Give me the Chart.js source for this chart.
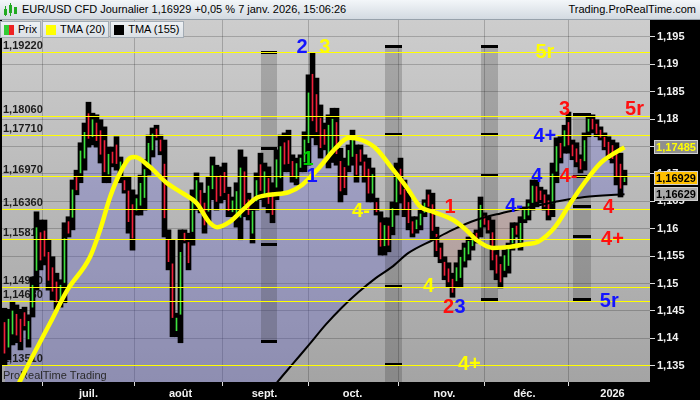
<!DOCTYPE html>
<html>
<head>
<meta charset="utf-8">
<script src="https://cdn.jsdelivr.net/npm/chart.js@4.4.1/dist/chart.umd.min.js"></script>
<style>
html, body { margin: 0; padding: 0; background: #000; }
#wrap { position: relative; width: 700px; height: 400px; overflow: hidden; font-family: "Liberation Sans", Arial, sans-serif; }
#hdr { position: absolute; left: 0; top: 0; width: 700px; height: 20px; box-sizing: border-box;
  background: linear-gradient(#f3f6f9, #d3dae1); border-bottom: 1px solid #97a1ab; font-size: 11px; line-height: 19px; color: #000; }
#hdr .t { position: absolute; left: 22px; top: 0; }
#hdr .r { position: absolute; right: 4px; top: 0; }
#hdr svg { position: absolute; left: 3px; top: 3px; }
#leg { position: absolute; left: 0; top: 21px; display: flex; }
#leg div { height: 15px; border: 1px solid #a3acb5; background: linear-gradient(#eef1f4, #dbe0e5); font-size: 11px;
  line-height: 15px; padding: 0 3px; margin-right: 1px; display: flex; align-items: center; color: #000; }
.sw { display: inline-block; width: 10px; height: 10px; margin-right: 4px; }
</style>
</head>
<body>
<div id="wrap">
  <canvas id="prt-chart" width="700" height="400"></canvas>
  <div id="hdr">
    <svg width="16" height="14"><rect x="1" y="6" width="3" height="6" fill="#2a2"/><rect x="6" y="2" width="3" height="8" fill="#2a2"/><rect x="11" y="4" width="3" height="7" fill="#2a2"/><rect x="2" y="3" width="1" height="10" fill="#2a2"/><rect x="7" y="0" width="1" height="13" fill="#2a2"/></svg>
    <span class="t">EUR/USD CFD Journalier 1,16929 +0,05 % 7 janv. 2026, 15:06:26</span>
    <span class="r">Trading.ProRealTime.com</span>
  </div>
  <div id="leg">
    <div><span class="sw" style="background:linear-gradient(90deg,#3c3 50%,#e22 50%)"></span>Prix</div>
    <div><span class="sw" style="background:#ffff00"></span>TMA (20)</div>
    <div><span class="sw" style="background:#000"></span>TMA (155)</div>
  </div>
</div>
<script>
// daily bars, 2 juin 2025 -> 7 janv. 2026 (index 0..155)
const hi = [
  1.1455, 1.1453, 1.1466, 1.1461, 1.1453, 1.1457, 1.1443, 1.1512, 1.1631, 1.1616,
  1.1616, 1.1580, 1.1549, 1.1519, 1.1507, 1.1611, 1.1622, 1.1689, 1.1707, 1.1757,
  1.1793, 1.1831, 1.1811, 1.1808, 1.1799, 1.1786, 1.1749, 1.1749, 1.1768, 1.1731,
  1.1695, 1.1695, 1.1671, 1.1662, 1.1698, 1.1726, 1.1771, 1.1784, 1.1789, 1.1771,
  1.1762, 1.1598, 1.1580, 1.1446, 1.1598, 1.1598, 1.1592, 1.1671, 1.1702, 1.1684,
  1.1665, 1.1695, 1.1731, 1.1716, 1.1713, 1.1720, 1.1676, 1.1658, 1.1684, 1.1744,
  1.1731, 1.1665, 1.1647, 1.1702, 1.1738, 1.1720, 1.1713, 1.1684, 1.1744, 1.1771,
  1.1775, 1.1780, 1.1735, 1.1729, 1.1735, 1.1777, 1.1881, 1.1921, 1.1875, 1.1826,
  1.1793, 1.1808, 1.1820, 1.1820, 1.1747, 1.1729, 1.1753, 1.1780, 1.1753, 1.1753,
  1.1735, 1.1729, 1.1711, 1.1656, 1.1631, 1.1620, 1.1620, 1.1649, 1.1720, 1.1729,
  1.1689, 1.1665, 1.1622, 1.1622, 1.1634, 1.1653, 1.1671, 1.1665, 1.1603, 1.1574,
  1.1549, 1.1538, 1.1519, 1.1538, 1.1561, 1.1574, 1.1585, 1.1592, 1.1598, 1.1658,
  1.1629, 1.1622, 1.1616, 1.1567, 1.1549, 1.1561, 1.1574, 1.1611, 1.1611, 1.1622,
  1.1640, 1.1653, 1.1689, 1.1689, 1.1676, 1.1671, 1.1662, 1.1720, 1.1766, 1.1768,
  1.1789, 1.1813, 1.1762, 1.1757, 1.1735, 1.1775, 1.1808, 1.1808, 1.1799, 1.1786,
  1.1775, 1.1768, 1.1762, 1.1757, 1.1738, 1.1707
]
const lo = [
  1.1352, 1.1361, 1.1388, 1.1392, 1.1379, 1.1415, 1.1384, 1.1439, 1.1488, 1.1525,
  1.1534, 1.1488, 1.1470, 1.1453, 1.1457, 1.1465, 1.1585, 1.1598, 1.1662, 1.1684,
  1.1707, 1.1749, 1.1753, 1.1749, 1.1720, 1.1684, 1.1684, 1.1713, 1.1707, 1.1684,
  1.1665, 1.1592, 1.1561, 1.1625, 1.1625, 1.1634, 1.1698, 1.1731, 1.1762, 1.1735,
  1.1585, 1.1525, 1.1403, 1.1403, 1.1392, 1.1574, 1.1525, 1.1570, 1.1634, 1.1629,
  1.1592, 1.1611, 1.1653, 1.1634, 1.1647, 1.1653, 1.1622, 1.1622, 1.1603, 1.1580,
  1.1622, 1.1616, 1.1574, 1.1634, 1.1653, 1.1640, 1.1629, 1.1611, 1.1653, 1.1667,
  1.1704, 1.1704, 1.1685, 1.1680, 1.1704, 1.1704, 1.1716, 1.1766, 1.1753, 1.1729,
  1.1744, 1.1711, 1.1721, 1.1716, 1.1649, 1.1662, 1.1704, 1.1716, 1.1685, 1.1716,
  1.1685, 1.1649, 1.1649, 1.1625, 1.1552, 1.1552, 1.1558, 1.1589, 1.1625, 1.1647,
  1.1622, 1.1598, 1.1585, 1.1592, 1.1598, 1.1622, 1.1634, 1.1580, 1.1549, 1.1538,
  1.1507, 1.1494, 1.1475, 1.1494, 1.1494, 1.1530, 1.1543, 1.1561, 1.1574, 1.1585,
  1.1603, 1.1592, 1.1525, 1.1507, 1.1492, 1.1512, 1.1519, 1.1561, 1.1585, 1.1561,
  1.1611, 1.1616, 1.1634, 1.1640, 1.1647, 1.1634, 1.1616, 1.1622, 1.1684, 1.1720,
  1.1738, 1.1738, 1.1726, 1.1713, 1.1702, 1.1707, 1.1768, 1.1775, 1.1768, 1.1762,
  1.1744, 1.1726, 1.1720, 1.1680, 1.1658, 1.1680
]
const op = [
  1.1429, 1.1384, 1.1408, 1.1444, 1.1435, 1.1447, 1.1399, 1.1457, 1.1524, 1.1593,
  1.1596, 1.1557, 1.1529, 1.1503, 1.1470, 1.1502, 1.1613, 1.1621, 1.1696, 1.1702,
  1.1729, 1.1810, 1.1768, 1.1793, 1.1779, 1.1761, 1.1700, 1.1740, 1.1753, 1.1696,
  1.1688, 1.1669, 1.1644, 1.1634, 1.1643, 1.1657, 1.1716, 1.1744, 1.1782, 1.1762,
  1.1718, 1.1580, 1.1536, 1.1414, 1.1444, 1.1592, 1.1575, 1.1595, 1.1651, 1.1670,
  1.1647, 1.1632, 1.1673, 1.1696, 1.1697, 1.1703, 1.1663, 1.1631, 1.1623, 1.1621,
  1.1704, 1.1653, 1.1592, 1.1651, 1.1717, 1.1660, 1.1692, 1.1666, 1.1676, 1.1693,
  1.1757, 1.1761, 1.1723, 1.1692, 1.1712, 1.1722, 1.1757, 1.1882, 1.1845, 1.1802,
  1.1781, 1.1735, 1.1746, 1.1794, 1.1723, 1.1712, 1.1716, 1.1732, 1.1736, 1.1744,
  1.1722, 1.1709, 1.1665, 1.1648, 1.1611, 1.1569, 1.1605, 1.1604, 1.1649, 1.1709,
  1.1672, 1.1648, 1.1613, 1.1600, 1.1607, 1.1630, 1.1662, 1.1644, 1.1590, 1.1565,
  1.1539, 1.1527, 1.1508, 1.1505, 1.1511, 1.1541, 1.1554, 1.1569, 1.1592, 1.1603,
  1.1623, 1.1615, 1.1593, 1.1552, 1.1535, 1.1524, 1.1533, 1.1574, 1.1605, 1.1576,
  1.1618, 1.1625, 1.1648, 1.1677, 1.1669, 1.1662, 1.1651, 1.1647, 1.1705, 1.1756,
  1.1751, 1.1794, 1.1753, 1.1746, 1.1727, 1.1724, 1.1778, 1.1800, 1.1791, 1.1780,
  1.1767, 1.1758, 1.1752, 1.1738, 1.1718, 1.1686
]
const cl = [
  1.1373, 1.1435, 1.1450, 1.1406, 1.1394, 1.1423, 1.1431, 1.1497, 1.1602, 1.1543,
  1.1550, 1.1506, 1.1486, 1.1466, 1.1497, 1.1582, 1.1592, 1.1671, 1.1671, 1.1742,
  1.1776, 1.1765, 1.1799, 1.1761, 1.1736, 1.1704, 1.1736, 1.1720, 1.1719, 1.1722,
  1.1671, 1.1613, 1.1583, 1.1655, 1.1683, 1.1708, 1.1756, 1.1773, 1.1767, 1.1742,
  1.1620, 1.1540, 1.1438, 1.1437, 1.1557, 1.1579, 1.1538, 1.1651, 1.1688, 1.1640,
  1.1607, 1.1678, 1.1715, 1.1650, 1.1660, 1.1666, 1.1633, 1.1651, 1.1668, 1.1711,
  1.1644, 1.1626, 1.1632, 1.1688, 1.1670, 1.1704, 1.1646, 1.1626, 1.1726, 1.1750,
  1.1718, 1.1719, 1.1695, 1.1719, 1.1729, 1.1762, 1.1848, 1.1797, 1.1777, 1.1748,
  1.1754, 1.1789, 1.1800, 1.1737, 1.1669, 1.1675, 1.1743, 1.1767, 1.1699, 1.1723,
  1.1695, 1.1665, 1.1699, 1.1631, 1.1568, 1.1606, 1.1570, 1.1637, 1.1701, 1.1663,
  1.1635, 1.1611, 1.1592, 1.1616, 1.1627, 1.1647, 1.1641, 1.1597, 1.1560, 1.1545,
  1.1515, 1.1503, 1.1484, 1.1529, 1.1548, 1.1565, 1.1577, 1.1586, 1.1579, 1.1643,
  1.1608, 1.1598, 1.1543, 1.1519, 1.1503, 1.1551, 1.1563, 1.1601, 1.1590, 1.1610,
  1.1634, 1.1646, 1.1678, 1.1650, 1.1653, 1.1641, 1.1625, 1.1700, 1.1750, 1.1730,
  1.1779, 1.1753, 1.1733, 1.1722, 1.1709, 1.1761, 1.1800, 1.1782, 1.1774, 1.1767,
  1.1750, 1.1734, 1.1728, 1.1695, 1.1674, 1.16929
]

// moving averages (bar index, price)
const tma20Idx = [3, 4, 11.4, 15.7, 21.4, 23.9, 26.4, 28.9, 31.3, 32.6, 36.3, 40.5, 44.5, 48, 51.2, 53.2, 56.2, 59.5,
  62.9, 66.2, 71.1, 74.4, 78.6, 82.8, 86.1, 89.3, 92.8, 96.8, 100.5, 104, 107.2, 112.2, 115.4, 117.9, 122.1,
  126.4, 130.3, 133.3, 137.6, 141.5, 145, 149, 152.5, 155]
const tma20Val = [1.1308, 1.1324, 1.1428, 1.1488, 1.1549, 1.1598, 1.1658, 1.1702, 1.1729, 1.1731, 1.1713, 1.1684,
  1.1665, 1.1647, 1.1612, 1.1603, 1.1612, 1.1634, 1.1656, 1.1662, 1.1667, 1.1680, 1.1711, 1.1747, 1.1766,
  1.1762, 1.1747, 1.1711, 1.1676, 1.1640, 1.1631, 1.1616, 1.1598, 1.1580, 1.1565, 1.1567, 1.1572, 1.1576,
  1.1603, 1.1647, 1.1684, 1.1720, 1.1738, 1.17485]
const tma155Idx = [0, 30, 50, 60, 68.2, 71.9, 76.1, 80.3, 84.3, 88.6, 92.8, 96.8, 101, 107.2, 112, 117.9, 124, 130.3, 137.6, 145, 155]
const tma155Val = [1.0700, 1.0950, 1.1140, 1.1240, 1.1320, 1.1352, 1.1388, 1.1425, 1.1456, 1.1485, 1.1510, 1.1530,
  1.1556, 1.1580, 1.1598, 1.1616, 1.1628, 1.1638, 1.1649, 1.1658, 1.16629]

const monthIdx = [21, 44, 65, 87, 110, 130, 152]
const monthLabels = ['juil.', 'août', 'sept.', 'oct.', 'nov.', 'déc.', '2026']

const levels = [1.1922, 1.1806, 1.1771, 1.1697, 1.1636, 1.1581, 1.1493, 1.1468, 1.1351]
const levelLabels = ['1,19220', '1,18060', '1,17710', '1,16970', '1,16360', '1,15810', '1,14930', '1,14680', '1,13510']

// grey time boxes (bar index span, price span, marks)
const bandFrom = [64, 95, 119.2, 142]
const bandTo = [68.2, 99.3, 123.4, 146.5]
const bandTop = [1.1921, 1.1932, 1.1932, 1.1808]
const bandBottom = [1.1394, 1.1300, 1.1470, 1.1470]
const bandMarks = [
  [1.1921, 1.1745, 1.1570, 1.1394],
  [1.1932, 1.1771, 1.1493, 1.1351],
  [1.1932, 1.1771, 1.1697, 1.1470],
  [1.1808, 1.1695, 1.1640, 1.1585, 1.1470]
]

const noteText = ['2', '3', '5r', '1', '1', '4-', '1', '4', '2', '3', '4+', '4-', '4', '4+', '3', '4-', '5r', '4', '4+', '5r']
const noteIdx = [74.4, 80.1, 135.1, 75.9, 76.9, 89.1, 111.4, 106, 111, 113.9, 116.2, 127.4, 133.1, 135.1, 140, 141, 157.5, 151, 152, 151.2]
const notePrice = [1.1932, 1.1932, 1.1924, 1.1729, 1.1698, 1.1634, 1.1640, 1.1497, 1.1459, 1.1459, 1.1355, 1.1642,
  1.1698, 1.1771, 1.1819, 1.1698, 1.1820, 1.1640, 1.1583, 1.1470]
const noteColor = ['#1414ff', '#ffff00', '#ffff00', '#00d000', '#1414ff', '#ffff00', '#ff1010', '#ffff00', '#ff1010', '#1414ff',
  '#ffff00', '#1414ff', '#1414ff', '#1414ff', '#ff1010', '#ff1010', '#ff1010', '#ff1010', '#ff1010', '#1414ff']

const fmtPrice = (v, d) => v.toFixed(d).replace('.', ',')

const prtDecor = {
  id: 'prtDecor',
  beforeDraw(chart) {
    const {ctx, chartArea: a} = chart
    ctx.save()
    ctx.fillStyle = '#000'
    ctx.fillRect(0, 0, chart.width, chart.height)
    let g = ctx.createLinearGradient(0, a.top, 0, a.bottom)
    g.addColorStop(0, '#cdcdcd')
    g.addColorStop(1, '#a4a4a4')
    ctx.fillStyle = g
    ctx.fillRect(a.left, a.top, a.right - a.left, a.bottom - a.top)
    ctx.restore()
  },
  beforeDatasetsDraw(chart) {
    const {ctx, chartArea: a, scales: {x, y}} = chart
    ctx.save()
    ctx.beginPath()
    ctx.rect(a.left, a.top, a.right - a.left, a.bottom - a.top)
    ctx.clip()
    for (let k = 0; k < bandFrom.length; k++) {
      let x0 = Math.round(x.getPixelForValue(bandFrom[k])), x1 = Math.round(x.getPixelForValue(bandTo[k]))
      let y0 = y.getPixelForValue(bandTop[k]), y1 = y.getPixelForValue(bandBottom[k])
      ctx.fillStyle = 'rgba(40,40,40,0.22)'
      ctx.fillRect(x0, y0, x1 - x0, y1 - y0)
      ctx.fillStyle = '#000'
      bandMarks[k].forEach(m => {
        ctx.fillRect(x0, Math.round(y.getPixelForValue(m)) - 2, x1 - x0, 3)
      })
    }
    ctx.fillStyle = '#1c1c1c'
    ctx.font = 'bold 11px "Liberation Sans", Arial'
    ctx.textBaseline = 'bottom'
    levels.forEach((v, k) => {
      ctx.fillText(levelLabels[k], 3, Math.round(y.getPixelForValue(v)) - 1)
    })
    ctx.fillStyle = '#2a2a2a'
    ctx.font = '11px "Liberation Sans", Arial'
    ctx.fillText('ProRealTime Trading', 3, a.bottom - 1)
    ctx.restore()
  },
  afterDatasetsDraw(chart) {
    const {ctx, chartArea: a, scales: {x, y}} = chart
    ctx.save()
    ctx.beginPath()
    ctx.rect(a.left, a.top, a.right - a.left, a.bottom - a.top)
    ctx.clip()
    ctx.strokeStyle = '#ffff00'
    ctx.lineWidth = 1
    levels.forEach(v => {
      let py = Math.round(y.getPixelForValue(v)) + 0.5
      ctx.beginPath()
      ctx.moveTo(a.left, py)
      ctx.lineTo(a.right, py)
      ctx.stroke()
    })
    ctx.font = 'bold 20px "Liberation Sans", Arial'
    ctx.textAlign = 'center'
    ctx.textBaseline = 'middle'
    noteText.forEach((t, k) => {
      ctx.fillStyle = noteColor[k]
      ctx.fillText(t, x.getPixelForValue(noteIdx[k]), y.getPixelForValue(notePrice[k]) + 1)
    })
    ctx.restore()

    // last values on the price axis
    const boxes = [
      [tma20Val[tma20Val.length - 1], '#8e8e8e', '#ffff00'],
      [cl[cl.length - 1], '#ffc000', '#000'],
      [tma155Val[tma155Val.length - 1], '#ababab', '#000']
    ]
    ctx.save()
    ctx.font = 'bold 11px "Liberation Sans", Arial'
    ctx.textAlign = 'center'
    ctx.textBaseline = 'middle'
    boxes.forEach(([v, bg, fg]) => {
      let py = Math.round(y.getPixelForValue(v))
      ctx.fillStyle = bg
      ctx.fillRect(a.right + 4, py - 7, 44, 14)
      ctx.strokeStyle = '#d0d0d0'
      ctx.lineWidth = 1
      ctx.strokeRect(a.right + 4.5, py - 6.5, 43, 13)
      ctx.fillStyle = fg
      ctx.fillText(fmtPrice(v, 5), a.right + 26, py + 1)
    })
    ctx.restore()
  }
}

const ranges = hi.map((h, i) => ({x: i, y: [lo[i], h]}))
const bodies = op.map((o, i) => ({x: i, y: [o, cl[i]]}))
const closes = cl.map((c, i) => ({x: i, y: c}))
const tma20 = tma20Idx.map((i, k) => ({x: i, y: tma20Val[k]}))
const tma155 = tma155Idx.map((i, k) => ({x: i, y: tma155Val[k]}))

new Chart(document.getElementById('prt-chart'), {
  type: 'bar',
  data: {
    datasets: [
      {
        type: 'line', data: closes, borderWidth: 0, pointRadius: 0, order: 4,
        fill: {target: 3, above: 'rgba(95,95,205,0.32)', below: 'rgba(190,110,100,0.22)'}
      },
      {data: ranges, backgroundColor: '#000', barThickness: 5, grouped: false, order: 3},
      {
        data: bodies, barThickness: 1, grouped: false, order: 2,
        backgroundColor: (c) => cl[c.dataIndex] >= op[c.dataIndex] ? '#3ee03e' : '#f0203a'
      },
      {type: 'line', data: tma155, borderColor: '#000', borderWidth: 2, pointRadius: 0, cubicInterpolationMode: 'monotone', order: 1},
      {type: 'line', data: tma20, borderColor: '#ffff00', borderWidth: 4.5, pointRadius: 0, cubicInterpolationMode: 'monotone', order: 0}
    ]
  },
  options: {
    responsive: false,
    animation: false,
    devicePixelRatio: 1,
    events: [],
    layout: {padding: {left: 2, top: 20, right: 0, bottom: 0}},
    scales: {
      x: {
        type: 'linear',
        // 4 px per bar, bar centres on pixel centres
        min: -0.625,
        max: 161.375,
        offset: false,
        afterFit: (s) => { s.height = 18 },
        afterBuildTicks: (s) => { s.ticks = monthIdx.map(v => ({value: v})) },
        ticks: {
          autoSkip: false, maxRotation: 0, padding: 1, color: '#f2f2f2',
          font: {family: '"Liberation Sans", Arial', size: 11, weight: 'bold'},
          callback: (v) => monthLabels[monthIdx.indexOf(v)]
        },
        grid: {color: 'rgba(0,0,0,0.2)', tickColor: '#dddddd', tickLength: 4},
        border: {display: false}
      },
      y: {
        position: 'right',
        min: 1.13204,
        max: 1.1981,
        afterFit: (s) => { s.width = 50 },
        ticks: {
          stepSize: 0.005, includeBounds: false, padding: 2, color: '#f2f2f2',
          font: {family: '"Liberation Sans", Arial', size: 11, weight: 'bold'},
          callback: (v) => String(parseFloat(v.toFixed(3))).replace('.', ',')
        },
        grid: {color: 'rgba(0,0,0,0.2)', tickColor: '#dddddd', tickLength: 5},
        border: {display: false}
      }
    },
    plugins: {
      legend: {display: false},
      tooltip: {enabled: false},
      filler: {drawTime: 'beforeDatasetsDraw'}
    }
  },
  plugins: [prtDecor]
})
</script>
</body>
</html>
